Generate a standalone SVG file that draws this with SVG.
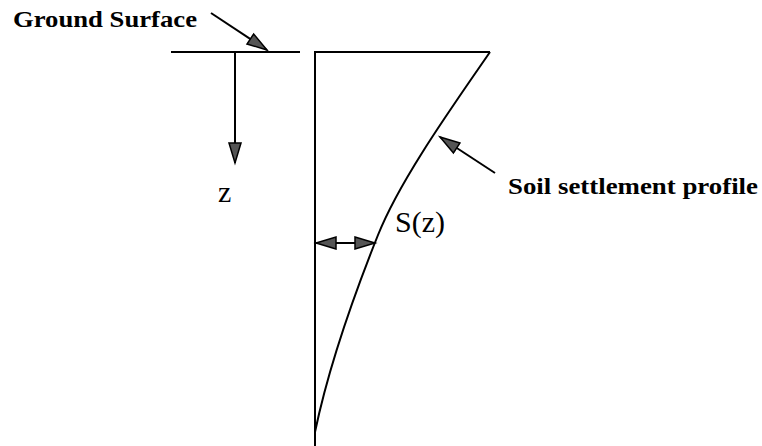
<svg xmlns="http://www.w3.org/2000/svg" width="762" height="446" viewBox="0 0 762 446">
<style>
.ln{stroke:#000;stroke-width:2;fill:none}
.lbl{font-family:"Liberation Serif","Times New Roman",serif;font-weight:bold;font-size:24px;fill:#000}
.sym{font-family:"Liberation Serif","Times New Roman",serif;font-size:30px;fill:#000}
</style>
<defs>
<marker id="ah" markerUnits="userSpaceOnUse" markerWidth="24" markerHeight="16" viewBox="0 -8 22 16" refX="20" refY="0" orient="auto-start-reverse">
<path d="M0,-6 L20,0 L0,6 Z" fill="#555" stroke="#000" stroke-width="1.5" stroke-linejoin="miter"/>
</marker>
</defs>
<rect width="762" height="446" fill="#fff"/>
<g id="ground">
<line class="ln" x1="171" y1="52" x2="300" y2="52"/>
</g>
<g id="profile">
<path class="ln" d="M315,446 L315,52 L490,52"/>
<path class="ln" d="M490,52 C450,110 400,180 378,235 S330,360 315,432"/>
</g>
<g id="labels">
<text id="ground-label" class="lbl" x="13" y="27" textLength="184" lengthAdjust="spacingAndGlyphs">Ground Surface</text>
<text id="profile-label" class="lbl" x="508" y="194" textLength="250" lengthAdjust="spacingAndGlyphs">Soil settlement profile</text>
<text id="z-label" class="sym" x="218" y="202">z</text>
<text id="s-label" class="sym" x="395" y="232">S(z)</text>
</g>
<g id="connectors">
<line class="ln" x1="235" y1="52" x2="235" y2="163" marker-end="url(#ah)"/>
<line class="ln" x1="211" y1="13" x2="267" y2="50" marker-end="url(#ah)"/>
<line class="ln" x1="495" y1="173" x2="440" y2="137" marker-end="url(#ah)"/>
<line class="ln" x1="316" y1="243" x2="375" y2="243" marker-start="url(#ah)" marker-end="url(#ah)"/>
</g>
</svg>
